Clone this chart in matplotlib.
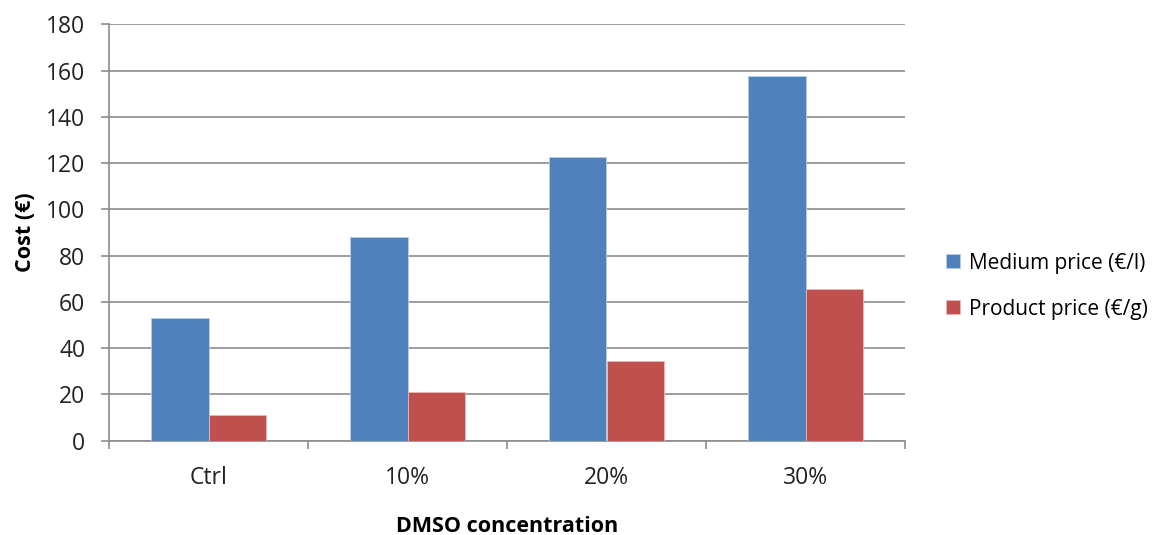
import numpy as np
import matplotlib.pyplot as plt

plt.rcParams['font.family'] = ['Open Sans', 'DejaVu Sans']

categories = ['Ctrl', '10%', '20%', '30%']
medium_price = [52.9, 88.2, 122.8, 157.8]
product_price = [11.1, 20.9, 34.6, 65.7]
series_labels = ['Medium price (€/l)', 'Product price (€/g)']

blue = '#4F81BD'
red = '#C0504D'
grid_col = '#8C8C8C'

fig = plt.figure(figsize=(11.74, 5.35), dpi=100)
ax = fig.add_axes([109/1174, 1 - 440.7/535, (905-109)/1174, (440.7-24.3)/535])

x = np.arange(len(categories))
w = 0.287
ax.bar(x - w/2, medium_price, w, color=blue, edgecolor='#B9CDE5', linewidth=0.6,
       label=series_labels[0], zorder=3)
ax.bar(x + w/2, product_price, w, color=red, edgecolor='#E6B9B8', linewidth=0.6,
       label=series_labels[1], zorder=3)

ax.set_xlim(-0.5, len(categories) - 0.5)
ax.set_ylim(0, 180)
ax.set_yticks(np.arange(0, 181, 20))
ax.yaxis.grid(True, color=grid_col, linewidth=1.2, zorder=0)
ax.set_axisbelow(True)

# category labels sit between the boundary ticks
ax.set_xticks(np.arange(-0.5, len(categories), 1))
ax.set_xticklabels([])
ax.set_xticks(x, minor=True)
ax.set_xticklabels(categories, minor=True, fontsize=16.5, color='#222222')
ax.tick_params(axis='x', which='minor', length=0, pad=18)
ax.tick_params(axis='x', which='major', length=6, color=grid_col, width=1.2)
ax.tick_params(axis='y', length=6, color=grid_col, width=1.2, labelsize=16.5,
               labelcolor='#222222', pad=11)

for side in ['top', 'right']:
    ax.spines[side].set_visible(False)
for side in ['left', 'bottom']:
    ax.spines[side].set_color(grid_col)
    ax.spines[side].set_linewidth(1.2)

ax.set_ylabel('Cost (€)', fontsize=15.5, fontweight='bold', labelpad=7)
ax.set_xlabel('DMSO concentration', fontsize=15.5, fontweight='bold', labelpad=19)

ax.legend(loc='center left', bbox_to_anchor=(946/1174, 1 - 286/535),
          bbox_transform=fig.transFigure, frameon=False, fontsize=15,
          borderpad=0, borderaxespad=0,
          handlelength=0.65, handleheight=0.65, handletextpad=0.45,
          labelspacing=1.2)

fig.savefig('out.png', dpi=100)
